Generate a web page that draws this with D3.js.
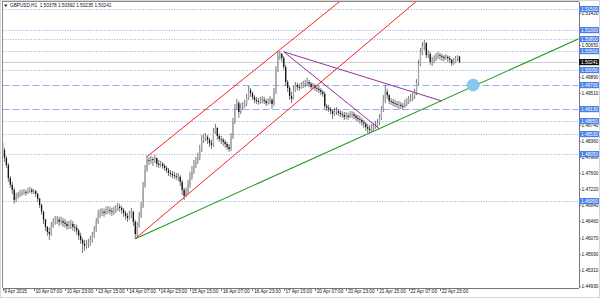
<!DOCTYPE html>
<html lang="en">
<head>
<meta charset="UTF-8">
<title>GBPUSD,H1</title>
<style>
    body { margin: 0; background: #fff; }
    svg { display: block; font-family: "Liberation Sans", Arial, sans-serif; }
    .axis text { font-size: 4.7px; fill: #111; }
    .axis path, .axis line { stroke: #777; shape-rendering: crispEdges; }
</style>
</head>
<body>
<svg></svg>
<script src="https://d3js.org/d3.v7.min.js"></script>
<script>
    /* data: GBPUSD H1, 9 Apr 2015 15:00 .. 23 Apr 2015 10:00 */
    const firstOpen = 1.4835;
    const closes = [
        1.4816,1.4797,1.4780,1.4749,1.4733,1.4721,1.4697,1.4704,1.4709,1.4711,
        1.4714,1.4716,1.4714,1.4718,1.4721,1.4716,1.4718,1.4711,1.4700,1.4685,
        1.4669,1.4650,1.4633,1.4621,1.4616,1.4635,1.4645,1.4647,1.4650,1.4645,
        1.4647,1.4643,1.4640,1.4635,1.4638,1.4640,1.4633,1.4631,1.4624,1.4612,
        1.4602,1.4593,1.4588,1.4593,1.4595,1.4602,1.4612,1.4626,1.4645,1.4662,
        1.4666,1.4669,1.4666,1.4671,1.4673,1.4671,1.4669,1.4671,1.4676,1.4681,
        1.4678,1.4673,1.4666,1.4659,1.4654,1.4662,1.4669,1.4645,1.4616,1.4635,
        1.4659,1.4683,1.4730,1.4768,1.4792,1.4790,1.4794,1.4792,1.4797,1.4783,
        1.4780,1.4783,1.4778,1.4773,1.4768,1.4761,1.4759,1.4756,1.4754,1.4752,
        1.4752,1.4740,1.4721,1.4707,1.4716,1.4733,1.4749,1.4764,1.4778,1.4787,
        1.4797,1.4816,1.4840,1.4844,1.4847,1.4840,1.4832,1.4828,1.4859,1.4868,
        1.4849,1.4842,1.4840,1.4835,1.4830,1.4823,1.4818,1.4847,1.4882,1.4916,
        1.4927,1.4906,1.4918,1.4920,1.4925,1.4939,1.4958,1.4951,1.4942,1.4935,
        1.4932,1.4930,1.4932,1.4935,1.4932,1.4927,1.4930,1.4935,1.4925,1.4954,
        1.5006,1.5039,1.5044,1.5034,1.5013,1.4977,1.4963,1.4944,1.4937,1.4958,
        1.4970,1.4965,1.4963,1.4968,1.4970,1.4973,1.4977,1.4973,1.4965,1.4968,
        1.4963,1.4961,1.4958,1.4954,1.4949,1.4920,1.4916,1.4913,1.4908,1.4901,
        1.4906,1.4908,1.4904,1.4901,1.4899,1.4894,1.4897,1.4894,1.4899,1.4901,
        1.4897,1.4892,1.4889,1.4887,1.4882,1.4878,1.4870,1.4866,1.4863,1.4868,
        1.4870,1.4875,1.4880,1.4892,1.4911,1.4935,1.4954,1.4946,1.4932,1.4930,
        1.4927,1.4925,1.4923,1.4923,1.4920,1.4918,1.4925,1.4930,1.4935,1.4939,
        1.4942,1.4951,1.4975,1.5020,1.5049,1.5063,1.5070,1.5041,1.5044,1.5025,
        1.5027,1.5032,1.5037,1.5041,1.5039,1.5037,1.5034,1.5037,1.5034,1.5030,
        1.5022,1.5025,1.5032,1.50378,1.50241
    ];
    const highs = [
        1.4840,1.4821,1.4802,1.4785,1.4754,1.4740,1.4726,1.4714,1.4716,1.4721,
        1.4721,1.4723,1.4721,1.4726,1.4728,1.4726,1.4723,1.4721,1.4714,1.4702,
        1.4688,1.4671,1.4652,1.4635,1.4631,1.4645,1.4654,1.4659,1.4659,1.4657,
        1.4657,1.4654,1.4652,1.4647,1.4647,1.4650,1.4647,1.4640,1.4638,1.4628,
        1.4619,1.4607,1.4602,1.4602,1.4605,1.4612,1.4621,1.4635,1.4654,1.4673,
        1.4676,1.4678,1.4676,1.4681,1.4683,1.4681,1.4678,1.4681,1.4685,1.4690,
        1.4688,1.4683,1.4678,1.4671,1.4666,1.4671,1.4678,1.4671,1.4650,1.4645,
        1.4669,1.4692,1.4740,1.4780,1.4802,1.4799,1.4802,1.4799,1.4804,1.4797,
        1.4792,1.4790,1.4787,1.4783,1.4778,1.4773,1.4768,1.4766,1.4764,1.4761,
        1.4761,1.4756,1.4745,1.4726,1.4726,1.4745,1.4764,1.4778,1.4792,1.4799,
        1.4809,1.4828,1.4851,1.4854,1.4856,1.4851,1.4844,1.4840,1.4868,1.4878,
        1.4870,1.4854,1.4849,1.4844,1.4840,1.4835,1.4830,1.4856,1.4892,1.4925,
        1.4937,1.4932,1.4927,1.4930,1.4935,1.4949,1.4968,1.4963,1.4954,1.4946,
        1.4942,1.4939,1.4942,1.4944,1.4942,1.4937,1.4939,1.4944,1.4939,1.4963,
        1.5015,1.5049,1.5051,1.5046,1.5039,1.5018,1.4982,1.4968,1.4954,1.4968,
        1.4977,1.4975,1.4973,1.4977,1.4980,1.4982,1.4987,1.4982,1.4977,1.4975,
        1.4973,1.4970,1.4968,1.4963,1.4958,1.4954,1.4925,1.4923,1.4918,1.4913,
        1.4916,1.4918,1.4913,1.4911,1.4908,1.4906,1.4906,1.4904,1.4908,1.4908,
        1.4906,1.4901,1.4899,1.4897,1.4892,1.4887,1.4882,1.4878,1.4875,1.4878,
        1.4880,1.4885,1.4889,1.4901,1.4920,1.4946,1.4970,1.4961,1.4949,1.4939,
        1.4937,1.4935,1.4932,1.4932,1.4930,1.4927,1.4935,1.4939,1.4944,1.4949,
        1.4951,1.4961,1.4984,1.5030,1.5058,1.5072,1.5077,1.5072,1.5053,1.5049,
        1.5037,1.5041,1.5046,1.5049,1.5046,1.5044,1.5041,1.5044,1.5041,1.5039,
        1.5032,1.5034,1.5039,1.5041,1.50392
    ];
    const lows = [
        1.4811,1.4787,1.4773,1.4740,1.4726,1.4711,1.4688,1.4692,1.4700,1.4704,
        1.4707,1.4709,1.4707,1.4711,1.4714,1.4711,1.4711,1.4704,1.4692,1.4678,
        1.4662,1.4640,1.4624,1.4612,1.4602,1.4612,1.4631,1.4638,1.4640,1.4635,
        1.4638,1.4633,1.4631,1.4626,1.4628,1.4628,1.4624,1.4621,1.4614,1.4602,
        1.4593,1.4571,1.4576,1.4581,1.4583,1.4588,1.4595,1.4607,1.4621,1.4640,
        1.4654,1.4659,1.4657,1.4662,1.4664,1.4662,1.4659,1.4662,1.4666,1.4671,
        1.4669,1.4664,1.4657,1.4650,1.4645,1.4650,1.4654,1.4635,1.4605,1.4609,
        1.4631,1.4654,1.4678,1.4726,1.4764,1.4780,1.4783,1.4778,1.4785,1.4775,
        1.4773,1.4775,1.4771,1.4766,1.4761,1.4754,1.4752,1.4749,1.4747,1.4745,
        1.4742,1.4730,1.4709,1.4697,1.4704,1.4711,1.4726,1.4745,1.4759,1.4773,
        1.4783,1.4792,1.4811,1.4832,1.4837,1.4830,1.4823,1.4818,1.4823,1.4854,
        1.4840,1.4835,1.4830,1.4825,1.4821,1.4816,1.4811,1.4813,1.4842,1.4878,
        1.4911,1.4892,1.4901,1.4911,1.4916,1.4920,1.4935,1.4942,1.4935,1.4927,
        1.4925,1.4923,1.4925,1.4927,1.4925,1.4920,1.4923,1.4925,1.4913,1.4920,
        1.4949,1.5001,1.5030,1.5025,1.5006,1.4968,1.4954,1.4935,1.4927,1.4935,
        1.4954,1.4958,1.4956,1.4961,1.4963,1.4965,1.4968,1.4965,1.4958,1.4961,
        1.4956,1.4954,1.4951,1.4946,1.4942,1.4913,1.4908,1.4906,1.4901,1.4889,
        1.4897,1.4899,1.4897,1.4894,1.4892,1.4887,1.4889,1.4887,1.4892,1.4892,
        1.4889,1.4885,1.4882,1.4878,1.4873,1.4868,1.4861,1.4856,1.4856,1.4859,
        1.4861,1.4866,1.4870,1.4875,1.4887,1.4906,1.4927,1.4937,1.4925,1.4923,
        1.4920,1.4918,1.4916,1.4913,1.4913,1.4911,1.4916,1.4920,1.4925,1.4930,
        1.4932,1.4937,1.4946,1.4970,1.5015,1.5041,1.5053,1.5034,1.5034,1.5018,
        1.5015,1.5022,1.5027,1.5032,1.5030,1.5027,1.5027,1.5030,1.5025,1.5022,
        1.5015,1.5018,1.5022,1.5027,1.50235
    ];
    const timeLabels = ["9 Apr 2015", "10 Apr 07:00", "10 Apr 23:00", "13 Apr 15:00", "14 Apr 07:00",
        "14 Apr 23:00", "15 Apr 15:00", "16 Apr 07:00", "16 Apr 23:00", "17 Apr 15:00",
        "20 Apr 07:00", "20 Apr 23:00", "21 Apr 15:00", "22 Apr 07:00", "22 Apr 23:00"];
    const timeLabelBars = [0, 16, 32, 48, 64, 80, 96, 112, 128, 144, 160, 176, 192, 208, 224];
    const priceTicks = [1.44930, 1.45310, 1.45690, 1.46070, 1.46460, 1.46840, 1.47220, 1.47600, 1.47980,
        1.48360, 1.48740, 1.49120, 1.49510, 1.49890, 1.50270, 1.50650, 1.51030, 1.51420];
    const dottedLevels = [1.51500, 1.51000, 1.50800, 1.50500, 1.50050, 1.48850, 1.48530, 1.48050, 1.46950];
    const dashedLevels = [1.49700, 1.49130];
    const bid = 1.50241;
    const headerText = "GBPUSD,H1  1.50378 1.50392 1.50235 1.50241";

    /* objects drawn on the chart: [bar, price] anchors */
    const channelUpper = [[74, 1.4800], [142, 1.5054]];
    const channelLower = [[68, 1.4605], [188, 1.5075]];
    const trendGreen = [[68, 1.4605], [188, 1.4856]];
    const fanStart = [144, 1.5049];
    const fanEnds = [[225, 1.4932], [193, 1.4866]];
    const markPoint = [241, 1.4970];

    /* layout */
    const width = 600;
    const height = 298;
    const pL = 2.5, pR = 578.5, pT = 1.5, pB = 288;
    const barStep = 1.953;

    const svg = d3.select("svg").attr("width", width).attr("height", height);

    const x = d3.scaleLinear()
        .domain([0, (pR - pL) / barStep])
        .range([pL, pR]);
    const y = d3.scaleLinear()
        .domain([1.44878, 1.51673])
        .range([pB, 2]);

    const opens = closes.map((c, i) => i === 0 ? firstOpen : closes[i - 1]);

    svg.append("defs").append("clipPath").attr("id", "plot")
        .append("rect").attr("x", pL).attr("y", pT)
        .attr("width", pR - pL).attr("height", pB - pT);

    /* window border */
    svg.append("rect").attr("x", 0.5).attr("y", 0.5)
        .attr("width", width - 1).attr("height", height - 1)
        .attr("fill", "none").attr("stroke", "#d8d8d8");

    const plot = svg.append("g").attr("clip-path", "url(#plot)");

    /* horizontal levels */
    plot.selectAll(".dotted").data(dottedLevels).enter().append("line")
        .attr("x1", pL).attr("x2", pR)
        .attr("y1", d => Math.round(y(d)) + 0.5).attr("y2", d => Math.round(y(d)) + 0.5)
        .attr("stroke", "#7f98ee").attr("stroke-width", 0.8)
        .attr("stroke-dasharray", "1,1.6");
    plot.selectAll(".dashed").data(dashedLevels).enter().append("line")
        .attr("x1", pL).attr("x2", pR)
        .attr("y1", d => Math.round(y(d)) + 0.5).attr("y2", d => Math.round(y(d)) + 0.5)
        .attr("stroke", "#97abee").attr("stroke-width", 1)
        .attr("stroke-dasharray", "7,3");
    plot.append("line")
        .attr("x1", pL).attr("x2", pR)
        .attr("y1", Math.round(y(bid)) + 0.5).attr("y2", Math.round(y(bid)) + 0.5)
        .attr("stroke", "#cfcfcf").attr("stroke-width", 1);

    /* candles */
    const candles = plot.selectAll(".candle").data(closes).enter().append("g");
    candles.append("line")
        .attr("x1", (d, i) => x(i)).attr("x2", (d, i) => x(i))
        .attr("y1", (d, i) => y(highs[i])).attr("y2", (d, i) => y(lows[i]))
        .attr("stroke", "#555").attr("stroke-width", 0.8);
    candles.append("rect")
        .attr("x", (d, i) => x(i) - 0.65)
        .attr("width", 1.3)
        .attr("y", (d, i) => y(Math.max(opens[i], d)))
        .attr("height", (d, i) => Math.max(0.6, Math.abs(y(opens[i]) - y(d))))
        .attr("fill", (d, i) => d < opens[i] ? "#111" : "#a8a8a8");

    /* drawn objects */
    const px = p => [x(p[0]), y(p[1])];
    const ray = (a, b) => {
        const [x1, y1] = px(a), [x2, y2] = px(b);
        const k = (y2 - y1) / (x2 - x1);
        const xe = pR + 50;
        return [[x1, y1], [xe, y1 + k * (xe - x1)]];
    };
    const line = d3.line();

    [channelUpper, channelLower].forEach(c => {
        plot.append("path").attr("d", line(ray(c[0], c[1])))
            .attr("fill", "none").attr("stroke", "#ff2020").attr("stroke-width", 1);
    });
    plot.append("path").attr("d", line(ray(trendGreen[0], trendGreen[1])))
        .attr("fill", "none").attr("stroke", "#1f961f").attr("stroke-width", 1.1);
    fanEnds.forEach(e => {
        plot.append("path").attr("d", line([px(fanStart), px(e)]))
            .attr("fill", "none").attr("stroke", "#962fa0").attr("stroke-width", 1);
    });
    plot.append("circle")
        .attr("cx", x(markPoint[0])).attr("cy", y(markPoint[1])).attr("r", 6)
        .attr("fill", "#86cbee").attr("stroke", "#6dbbe6").attr("stroke-width", 0.6);

    /* header */
    svg.append("path").attr("d", "M4,4.5 L7.5,4.5 L5.75,7 Z").attr("fill", "#222");
    svg.append("text").attr("x", 10).attr("y", 7.2)
        .attr("font-size", 4.7).attr("fill", "#111")
        .attr("xml:space", "preserve").text(headerText);

    /* axes */
    const yAxis = d3.axisRight(y).tickValues(priceTicks).tickSize(2).tickSizeOuter(0)
        .tickPadding(1).tickFormat(d3.format(".5f"));
    const gy = svg.append("g").attr("class", "axis").attr("transform", `translate(${pR},0)`).call(yAxis);
    gy.select(".domain").attr("d", `M0.5,${pT}V${pB}`);

    const xAxis = d3.axisBottom(x).tickValues(timeLabelBars).tickSize(3).tickSizeOuter(0)
        .tickFormat((d, i) => timeLabels[i]);
    const gx = svg.append("g").attr("class", "axis").attr("transform", `translate(0,${pB})`).call(xAxis);
    gx.select(".domain").attr("d", `M${pL},0.5H${pR}`);
    gx.selectAll("text").attr("text-anchor", "start").attr("x", 1.2).attr("dy", "0.6em").attr("y", 2.5);

    /* left/top frame */
    svg.append("path").attr("d", `M${pL},${pB}V${pT}H${pR}`)
        .attr("fill", "none").attr("stroke", "#8a8a8a").attr("shape-rendering", "crispEdges");

    /* price labels on the axis */
    const tags = dottedLevels.concat(dashedLevels).map(p => ({p: p, bg: "#4d7fe8"}))
        .concat([{p: bid, bg: "#111"}]);
    const tag = svg.selectAll(".tag").data(tags).enter().append("g")
        .attr("transform", d => `translate(${pR + 0.5},${Math.round(y(d.p))})`);
    tag.append("rect").attr("x", 0).attr("y", -3).attr("width", 20).attr("height", 6.2)
        .attr("fill", d => d.bg);
    tag.append("text").attr("x", 2).attr("y", 1.8)
        .attr("font-size", 4.7).attr("fill", "#fff")
        .text(d => d3.format(".5f")(d.p));
</script>
</body>
</html>
